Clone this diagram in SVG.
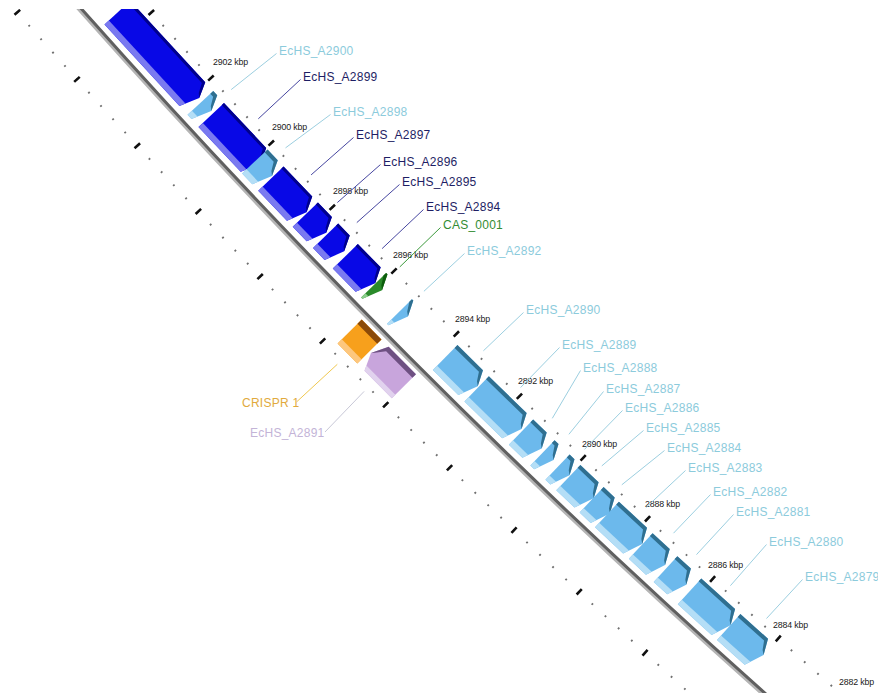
<svg xmlns="http://www.w3.org/2000/svg" width="878" height="693" viewBox="0 0 878 693">
<style>
text{font-family:"Liberation Sans",Arial,sans-serif}
.lbl{font-size:12px;letter-spacing:0.25px}
.kbp{font-size:8.8px;fill:#1a1a1a;letter-spacing:-0.15px}
.tb{fill:#8ccbdc}.tn{fill:#1e1e64}.tg{fill:#328c32}.to{fill:#e1aa3c}.tp{fill:#c3b4d7}
#connectors line{stroke-width:1;fill:none}
.lb{stroke:#9ccfe0}.ln{stroke:#4646a0}.lg{stroke:#3c9a3c}.lo{stroke:#f0c850}.lp{stroke:#c8c8d7}
.bm{fill:#0808e6}.bd{fill:#00008c}.bl{fill:#7a7af0}
.cm{fill:#6cb9ec}.cd{fill:#2f6f90}.cl{fill:#b4def6}
.gm{fill:#2a8a2a}.gd{fill:#0d5d0d}.gl{fill:#8ccf8c}
.om{fill:#f7a01c}.od{fill:#8b4a08}.ol{fill:#fdc77e}
.pm{fill:#c8a5dc}.pd{fill:#6e5082}.pl{fill:#e1d2ee}
</style>
<defs>
<clipPath id="frame"><rect x="0" y="9" width="878" height="684"/></clipPath>
</defs>
<rect width="878" height="693" fill="#ffffff"/>
<g clip-path="url(#frame)">

<g id="backbone" transform="translate(6285.7,-5504) rotate(130.6484)" fill="none">
<circle r="8301.8" stroke="#b4b4b4" stroke-width="3.5"/>
<circle r="8299.6" stroke="#606060" stroke-width="3"/>
</g>

<g id="gene_top"><g transform="translate(6285.7,-5504) rotate(137.37383) translate(8300 0)">
<polygon class="bm" points="-43,118.2 -43,7.5 -28,0 -8,7.5 -8,118.2"/>
<polygon class="bd" points="-43,118.2 -43,7.5 -28,0 -31,4 -40,9.2 -40,118.2"/>
<polygon class="bl" points="-14,118.2 -14,5.25 -8,7.5 -8,118.2"/>
</g></g>

<g id="EcHS_A2900"><g transform="translate(6285.7,-5504) rotate(137.25071) translate(8300 0)">
<polygon class="cm" points="-43,13.4 -43,7.5 -28,0 -8,7.5 -8,13.4"/>
<polygon class="cd" points="-43,13.4 -43,7.5 -28,0 -31,4 -39,9.2 -39,13.4"/>
<polygon class="cl" points="-14,13.4 -14,5.25 -8,7.5 -8,13.4"/>
</g><text class="lbl tb" x="279" y="55">EcHS_A2900</text></g>

<g id="EcHS_A2899"><g transform="translate(6285.7,-5504) rotate(136.75207) translate(8300 0)">
<polygon class="bm" points="-43,69.1 -43,7.5 -28,0 -8,7.5 -8,69.1"/>
<polygon class="bd" points="-43,69.1 -43,7.5 -28,0 -31,4 -40,9.2 -40,69.1"/>
<polygon class="bl" points="-14,69.1 -14,5.25 -8,7.5 -8,69.1"/>
</g><text class="lbl tn" x="303" y="81">EcHS_A2899</text></g>

<g id="EcHS_A2898"><g transform="translate(6285.7,-5504) rotate(136.63511) translate(8300 0)">
<polygon class="cm" points="-43,22.3 -43,7.5 -28,0 -8,7.5 -8,22.3"/>
<polygon class="cd" points="-43,22.3 -43,7.5 -28,0 -31,4 -39,9.2 -39,22.3"/>
<polygon class="cl" points="-14,22.3 -14,5.25 -8,7.5 -8,22.3"/>
</g><text class="lbl tb" x="333" y="116">EcHS_A2898</text></g>

<g id="EcHS_A2897"><g transform="translate(6285.7,-5504) rotate(136.28730) translate(8300 0)">
<polygon class="bm" points="-43,49 -43,7.5 -28,0 -8,7.5 -8,49"/>
<polygon class="bd" points="-43,49 -43,7.5 -28,0 -31,4 -40,9.2 -40,49"/>
<polygon class="bl" points="-14,49 -14,5.25 -8,7.5 -8,49"/>
</g><text class="lbl tn" x="356" y="139">EcHS_A2897</text></g>

<g id="EcHS_A2896"><g transform="translate(6285.7,-5504) rotate(136.09030) translate(8300 0)">
<polygon class="bm" points="-43,27.6 -43,7.5 -28,0 -8,7.5 -8,27.6"/>
<polygon class="bd" points="-43,27.6 -43,7.5 -28,0 -31,4 -40,9.2 -40,27.6"/>
<polygon class="bl" points="-14,27.6 -14,5.25 -8,7.5 -8,27.6"/>
</g><text class="lbl tn" x="383" y="166">EcHS_A2896</text></g>

<g id="EcHS_A2895"><g transform="translate(6285.7,-5504) rotate(135.91178) translate(8300 0)">
<polygon class="bm" points="-43,24.1 -43,7.5 -28,0 -8,7.5 -8,24.1"/>
<polygon class="bd" points="-43,24.1 -43,7.5 -28,0 -31,4 -40,9.2 -40,24.1"/>
<polygon class="bl" points="-14,24.1 -14,5.25 -8,7.5 -8,24.1"/>
</g><text class="lbl tn" x="402" y="186">EcHS_A2895</text></g>

<g id="EcHS_A2894"><g transform="translate(6285.7,-5504) rotate(135.60398) translate(8300 0)">
<polygon class="bm" points="-43,40.1 -43,7.5 -28,0 -8,7.5 -8,40.1"/>
<polygon class="bd" points="-43,40.1 -43,7.5 -28,0 -31,4 -40,9.2 -40,40.1"/>
<polygon class="bl" points="-14,40.1 -14,5.25 -8,7.5 -8,40.1"/>
</g><text class="lbl tn" x="426" y="211">EcHS_A2894</text></g>

<g id="CAS_0001"><g transform="translate(6285.7,-5504) rotate(135.53626) translate(8300 0)">
<polygon class="gm" points="-43,9.5 -43,7.5 -28,0 -8,7.5 -8,9.5"/>
<polygon class="gd" points="-43,9.5 -43,7.5 -28,0 -31,4 -39,9.2 -39,9.5"/>
<polygon class="gl" points="-14,9.5 -14,5.25 -8,7.5 -8,9.5"/>
</g><text class="lbl tg" x="443" y="229">CAS_0001</text></g>

<g id="EcHS_A2892"><g transform="translate(6285.7,-5504) rotate(135.28079) translate(8300 0)">
<polygon class="cm" points="-43,9.5 -43,7.5 -28,0 -8,7.5 -8,9.5"/>
<polygon class="cd" points="-43,9.5 -43,7.5 -28,0 -31,4 -39,9.2 -39,9.5"/>
<polygon class="cl" points="-14,9.5 -14,5.25 -8,7.5 -8,9.5"/>
</g><text class="lbl tb" x="467" y="255">EcHS_A2892</text></g>

<g id="EcHS_A2890"><g transform="translate(6285.7,-5504) rotate(134.59747) translate(8300 0)">
<polygon class="cm" points="-43,43.3 -43,7.5 -28,0 -8,7.5 -8,43.3"/>
<polygon class="cd" points="-43,43.3 -43,7.5 -28,0 -31,4 -39,9.2 -39,43.3"/>
<polygon class="cl" points="-14,43.3 -14,5.25 -8,7.5 -8,43.3"/>
</g><text class="lbl tb" x="526" y="314">EcHS_A2890</text></g>

<g id="EcHS_A2889"><g transform="translate(6285.7,-5504) rotate(134.17271) translate(8300 0)">
<polygon class="cm" points="-43,60.2 -43,7.5 -28,0 -8,7.5 -8,60.2"/>
<polygon class="cd" points="-43,60.2 -43,7.5 -28,0 -31,4 -39,9.2 -39,60.2"/>
<polygon class="cl" points="-14,60.2 -14,5.25 -8,7.5 -8,60.2"/>
</g><text class="lbl tb" x="562" y="349">EcHS_A2889</text></g>

<g id="EcHS_A2888"><g transform="translate(6285.7,-5504) rotate(133.97880) translate(8300 0)">
<polygon class="cm" points="-43,26.3 -43,7.5 -28,0 -8,7.5 -8,26.3"/>
<polygon class="cd" points="-43,26.3 -43,7.5 -28,0 -31,4 -39,9.2 -39,26.3"/>
<polygon class="cl" points="-14,26.3 -14,5.25 -8,7.5 -8,26.3"/>
</g><text class="lbl tb" x="583" y="372">EcHS_A2888</text></g>

<g id="EcHS_A2887"><g transform="translate(6285.7,-5504) rotate(133.86491) translate(8300 0)">
<polygon class="cm" points="-43,12.9 -43,7.5 -28,0 -8,7.5 -8,12.9"/>
<polygon class="cd" points="-43,12.9 -43,7.5 -28,0 -31,4 -39,9.2 -39,12.9"/>
<polygon class="cl" points="-14,12.9 -14,5.25 -8,7.5 -8,12.9"/>
</g><text class="lbl tb" x="606" y="393">EcHS_A2887</text></g>

<g id="EcHS_A2886"><g transform="translate(6285.7,-5504) rotate(133.71101) translate(8300 0)">
<polygon class="cm" points="-43,14.3 -43,7.5 -28,0 -8,7.5 -8,14.3"/>
<polygon class="cd" points="-43,14.3 -43,7.5 -28,0 -31,4 -39,9.2 -39,14.3"/>
<polygon class="cl" points="-14,14.3 -14,5.25 -8,7.5 -8,14.3"/>
</g><text class="lbl tb" x="625" y="412">EcHS_A2886</text></g>

<g id="EcHS_A2885"><g transform="translate(6285.7,-5504) rotate(133.48016) translate(8300 0)">
<polygon class="cm" points="-43,32.6 -43,7.5 -28,0 -8,7.5 -8,32.6"/>
<polygon class="cd" points="-43,32.6 -43,7.5 -28,0 -31,4 -39,9.2 -39,32.6"/>
<polygon class="cl" points="-14,32.6 -14,5.25 -8,7.5 -8,32.6"/>
</g><text class="lbl tb" x="646" y="432">EcHS_A2885</text></g>

<g id="EcHS_A2884"><g transform="translate(6285.7,-5504) rotate(133.32626) translate(8300 0)">
<polygon class="cm" points="-43,22.7 -43,7.5 -28,0 -8,7.5 -8,22.7"/>
<polygon class="cd" points="-43,22.7 -43,7.5 -28,0 -31,4 -39,9.2 -39,22.7"/>
<polygon class="cl" points="-14,22.7 -14,5.25 -8,7.5 -8,22.7"/>
</g><text class="lbl tb" x="667" y="452">EcHS_A2884</text></g>

<g id="EcHS_A2883"><g transform="translate(6285.7,-5504) rotate(133.01846) translate(8300 0)">
<polygon class="cm" points="-43,45.9 -43,7.5 -28,0 -8,7.5 -8,45.9"/>
<polygon class="cd" points="-43,45.9 -43,7.5 -28,0 -31,4 -39,9.2 -39,45.9"/>
<polygon class="cl" points="-14,45.9 -14,5.25 -8,7.5 -8,45.9"/>
</g><text class="lbl tb" x="688" y="472">EcHS_A2883</text></g>

<g id="EcHS_A2882"><g transform="translate(6285.7,-5504) rotate(132.80300) translate(8300 0)">
<polygon class="cm" points="-43,30.8 -43,7.5 -28,0 -8,7.5 -8,30.8"/>
<polygon class="cd" points="-43,30.8 -43,7.5 -28,0 -31,4 -39,9.2 -39,30.8"/>
<polygon class="cl" points="-14,30.8 -14,5.25 -8,7.5 -8,30.8"/>
</g><text class="lbl tb" x="713" y="496">EcHS_A2882</text></g>

<g id="EcHS_A2881"><g transform="translate(6285.7,-5504) rotate(132.60293) translate(8300 0)">
<polygon class="cm" points="-43,25.9 -43,7.5 -28,0 -8,7.5 -8,25.9"/>
<polygon class="cd" points="-43,25.9 -43,7.5 -28,0 -31,4 -39,9.2 -39,25.9"/>
<polygon class="cl" points="-14,25.9 -14,5.25 -8,7.5 -8,25.9"/>
</g><text class="lbl tb" x="736" y="516">EcHS_A2881</text></g>

<g id="EcHS_A2880"><g transform="translate(6285.7,-5504) rotate(132.18740) translate(8300 0)">
<polygon class="cm" points="-43,53.1 -43,7.5 -28,0 -8,7.5 -8,53.1"/>
<polygon class="cd" points="-43,53.1 -43,7.5 -28,0 -31,4 -39,9.2 -39,53.1"/>
<polygon class="cl" points="-14,53.1 -14,5.25 -8,7.5 -8,53.1"/>
</g><text class="lbl tb" x="769" y="546">EcHS_A2880</text></g>

<g id="EcHS_A2879"><g transform="translate(6285.7,-5504) rotate(131.87960) translate(8300 0)">
<polygon class="cm" points="-43,44.6 -43,7.5 -28,0 -8,7.5 -8,44.6"/>
<polygon class="cd" points="-43,44.6 -43,7.5 -28,0 -31,4 -39,9.2 -39,44.6"/>
<polygon class="cl" points="-14,44.6 -14,5.25 -8,7.5 -8,44.6"/>
</g><text class="lbl tb" x="805" y="581">EcHS_A2879</text></g>

<g id="CRISPR_1"><g transform="translate(6285.7,-5504) rotate(135.29618) translate(8300 0)">
<polygon class="om" points="7,0 41,0 41,28.1 7,28.1"/>
<polygon class="od" points="7,0 13,0 13,28.1 7,28.1"/>
<polygon class="ol" points="35,0 41,0 41,28.1 35,28.1"/>
</g><text class="lbl to" x="242" y="407">CRISPR 1</text></g>

<g id="EcHS_A2891"><g transform="translate(6285.7,-5504) rotate(135.28079) translate(8300 0)">
<polygon class="pm" points="7,-46.8 7,-8 24,0 41,-8 41,-46.8"/>
<polygon class="pd" points="7,-46.8 7,-8 24,0 21,-2.6 12,-9.4 12,-46.8"/>
<polygon class="pl" points="36,-46.8 36,-5.6 41,-8 41,-46.8"/>
</g><text class="lbl tp" x="250" y="437">EcHS_A2891</text></g>

<g id="ticks" transform="translate(6285.7,-5504) rotate(130.6484)" fill="none">
<path d="M8250,0A8250,8250 0 0 1 8124.664,1432.597" stroke="#707070" stroke-width="2" stroke-dasharray="1.8 15.928" stroke-dashoffset="0.9"/>
<path d="M8250,0A8250,8250 0 0 1 8124.664,1432.597" stroke="#111111" stroke-width="7.5" stroke-dasharray="2.6 86.04" stroke-dashoffset="1.3"/>
<path d="M8350,0A8350,8350 0 0 1 8223.145,1449.962" stroke="#707070" stroke-width="2" stroke-dasharray="1.8 16.1429" stroke-dashoffset="0.9"/>
<path d="M8350,0A8350,8350 0 0 1 8223.145,1449.962" stroke="#111111" stroke-width="7.5" stroke-dasharray="2.6 87.1144" stroke-dashoffset="1.3"/>
</g>

<g id="tick_labels">
<text class="kbp" x="213" y="65">2902 kbp</text>
<text class="kbp" x="272" y="130">2900 kbp</text>
<text class="kbp" x="333" y="194">2898 kbp</text>
<text class="kbp" x="393" y="258">2896 kbp</text>
<text class="kbp" x="455" y="322">2894 kbp</text>
<text class="kbp" x="518" y="384">2892 kbp</text>
<text class="kbp" x="582" y="447">2890 kbp</text>
<text class="kbp" x="645" y="507">2888 kbp</text>
<text class="kbp" x="708" y="568">2886 kbp</text>
<text class="kbp" x="773" y="628">2884 kbp</text>
<text class="kbp" x="839" y="685">2882 kbp</text>
</g>

<g id="connectors">
<line class="lb" x1="276.5" y1="53.5" x2="231.2" y2="89.6"/>
<line class="ln" x1="300.5" y1="79.5" x2="258.3" y2="118.8"/>
<line class="lb" x1="330.5" y1="114.5" x2="285.5" y2="147.9"/>
<line class="ln" x1="353.5" y1="137.5" x2="311.1" y2="174.9"/>
<line class="ln" x1="380.5" y1="164.5" x2="337.4" y2="202.5"/>
<line class="ln" x1="399.5" y1="184.5" x2="356.8" y2="222.6"/>
<line class="ln" x1="423.5" y1="209.5" x2="382.1" y2="248.6"/>
<line class="lg" x1="440.5" y1="227.5" x2="399.8" y2="266.9"/>
<line class="lb" x1="464.5" y1="253.5" x2="423.9" y2="291.3"/>
<line class="lb" x1="523.5" y1="312.5" x2="483.4" y2="350.8"/>
<line class="lb" x1="559.5" y1="347.5" x2="520.6" y2="387.5"/>
<line class="lb" x1="580.5" y1="370.5" x2="552.3" y2="418.3"/>
<line class="lb" x1="603.5" y1="391.5" x2="568.9" y2="434.3"/>
<line class="lb" x1="622.5" y1="410.5" x2="584.5" y2="449.4"/>
<line class="lb" x1="643.5" y1="430.5" x2="601.8" y2="465.9"/>
<line class="lb" x1="664.5" y1="450.5" x2="621.8" y2="484.8"/>
<line class="lb" x1="685.5" y1="470.5" x2="645.9" y2="507.6"/>
<line class="lb" x1="710.5" y1="494.5" x2="673.5" y2="533.2"/>
<line class="lb" x1="733.5" y1="514.5" x2="696.5" y2="554.6"/>
<line class="lb" x1="766.5" y1="544.5" x2="730.4" y2="585.7"/>
<line class="lb" x1="802.5" y1="579.5" x2="766.5" y2="618.5"/>
<line class="lo" x1="296.5" y1="402" x2="337.3" y2="364.3"/>
<line class="lp" x1="325" y1="432" x2="364.1" y2="391.4"/>
</g>
</g>
</svg>
